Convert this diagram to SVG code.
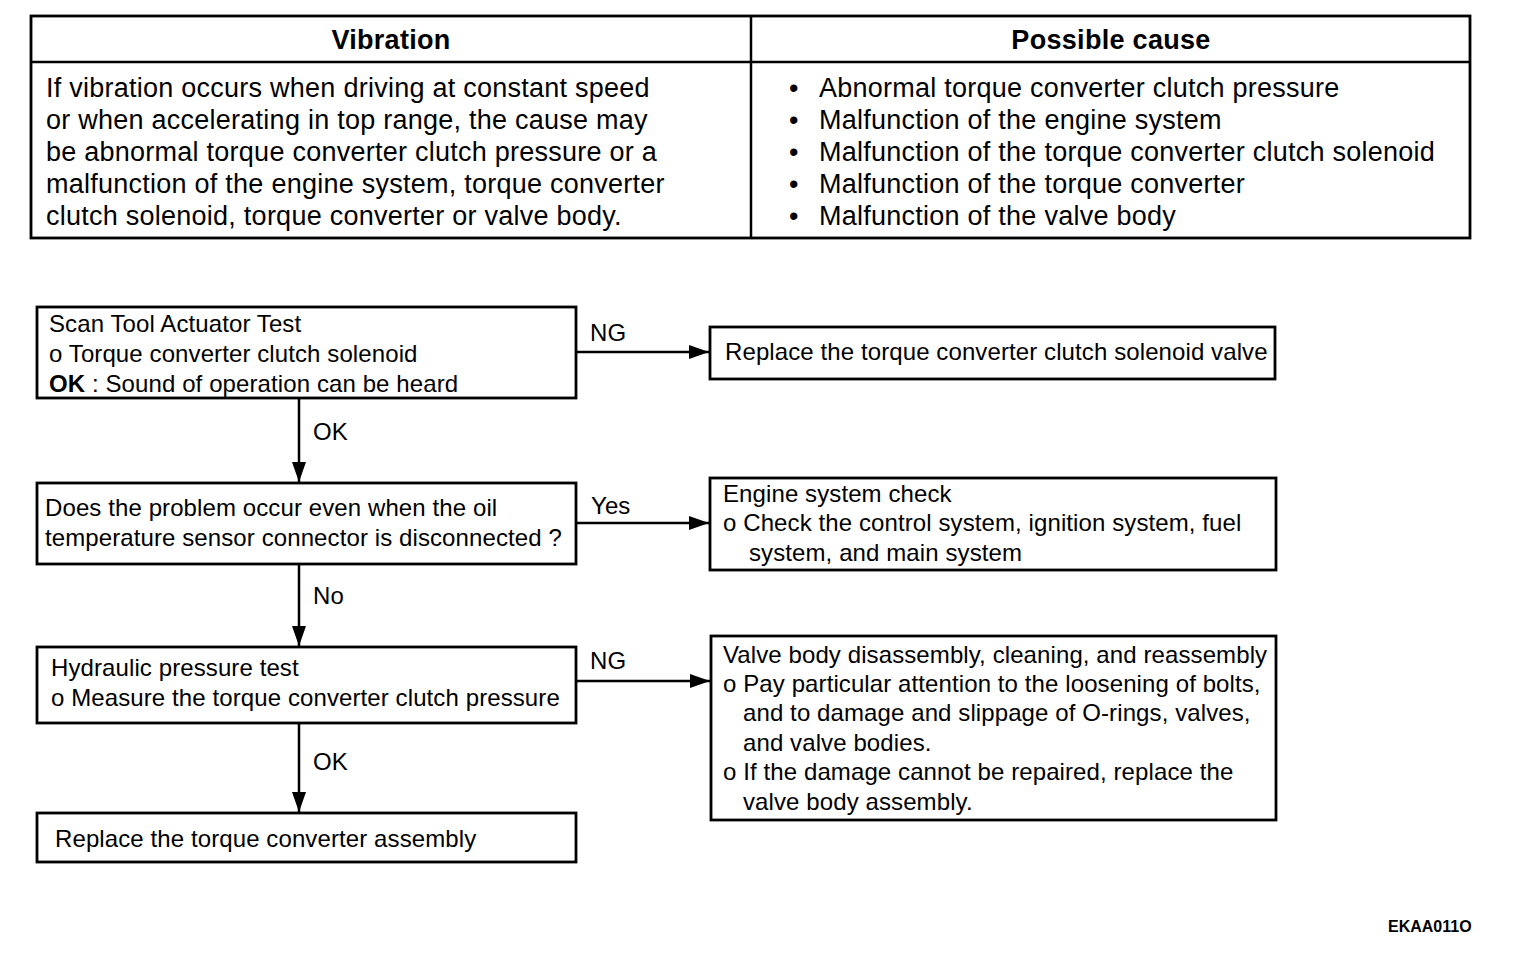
<svg xmlns="http://www.w3.org/2000/svg" width="1536" height="966" viewBox="0 0 1536 966">
<style>
text{font-family:"Liberation Sans",Arial,sans-serif;fill:#000}
.t{font-size:27px;letter-spacing:0.25px}
.h{font-size:27px;font-weight:bold;letter-spacing:0.3px}
.f{font-size:24px;letter-spacing:0.1px}
.box{fill:#fff;stroke:#000;stroke-width:2.8}
.ln{stroke:#000;stroke-width:2.5;fill:none}
</style>
<defs>
<marker id="ah" viewBox="0 0 20 14" refX="20" refY="7" markerWidth="20" markerHeight="14" markerUnits="userSpaceOnUse" orient="auto">
<path d="M0,0 L20,7 L0,14 z" fill="#000"/>
</marker>
</defs>
<rect width="1536" height="966" fill="#fff"/>
<g id="table">
<rect x="31" y="16" width="1439" height="222" class="box"/>
<line x1="31" y1="62" x2="1470" y2="62" class="ln"/>
<line x1="751" y1="16" x2="751" y2="238" class="ln"/>
<text x="391" y="49" class="h" text-anchor="middle">Vibration</text>
<text x="1111" y="49" class="h" text-anchor="middle">Possible cause</text>
<text class="t" x="46" y="97">If vibration occurs when driving at constant speed</text>
<text class="t" x="46" y="129">or when accelerating in top range, the cause may</text>
<text class="t" x="46" y="161">be abnormal torque converter clutch pressure or a</text>
<text class="t" x="46" y="193">malfunction of the engine system, torque converter</text>
<text class="t" x="46" y="225">clutch solenoid, torque converter or valve body.</text>
<text class="t" x="789" y="97">•</text><text class="t" x="819" y="97">Abnormal torque converter clutch pressure</text>
<text class="t" x="789" y="129">•</text><text class="t" x="819" y="129">Malfunction of the engine system</text>
<text class="t" x="789" y="161">•</text><text class="t" x="819" y="161">Malfunction of the torque converter clutch solenoid</text>
<text class="t" x="789" y="193">•</text><text class="t" x="819" y="193">Malfunction of the torque converter</text>
<text class="t" x="789" y="225">•</text><text class="t" x="819" y="225">Malfunction of the valve body</text>
</g>
<g id="connectors">
<line x1="576" y1="352" x2="709" y2="352" class="ln" marker-end="url(#ah)"/>
<line x1="299" y1="398" x2="299" y2="482" class="ln" marker-end="url(#ah)"/>
<line x1="576" y1="523" x2="709" y2="523" class="ln" marker-end="url(#ah)"/>
<line x1="299" y1="564" x2="299" y2="646" class="ln" marker-end="url(#ah)"/>
<line x1="576" y1="681" x2="710" y2="681" class="ln" marker-end="url(#ah)"/>
<line x1="299" y1="723" x2="299" y2="812" class="ln" marker-end="url(#ah)"/>
<text class="f" x="590" y="341">NG</text>
<text class="f" x="313" y="440">OK</text>
<text class="f" x="591" y="514">Yes</text>
<text class="f" x="313" y="604">No</text>
<text class="f" x="590" y="669">NG</text>
<text class="f" x="313" y="770">OK</text>
</g>
<g id="n1">
<rect x="37" y="307" width="539" height="91" class="box"/>
<text class="f" x="49" y="332">Scan Tool Actuator Test</text>
<text class="f" x="49" y="362">o Torque converter clutch solenoid</text>
<text class="f" x="49" y="392"><tspan font-weight="bold">OK</tspan> : Sound of operation can be heard</text>
</g>
<g id="n2">
<rect x="710" y="327" width="565" height="52" class="box"/>
<text class="f" x="725" y="360">Replace the torque converter clutch solenoid valve</text>
</g>
<g id="n3">
<rect x="37" y="483" width="539" height="81" class="box"/>
<text class="f" x="45" y="516">Does the problem occur even when the oil</text>
<text class="f" x="45" y="546">temperature sensor connector is disconnected ?</text>
</g>
<g id="n4">
<rect x="710" y="478" width="566" height="92" class="box"/>
<text class="f" x="723" y="502">Engine system check</text>
<text class="f" x="723" y="531">o Check the control system, ignition system, fuel</text>
<text class="f" x="749" y="561">system, and main system</text>
</g>
<g id="n5">
<rect x="37" y="647" width="539" height="76" class="box"/>
<text class="f" x="51" y="676">Hydraulic pressure test</text>
<text class="f" x="51" y="706">o Measure the torque converter clutch pressure</text>
</g>
<g id="n6">
<rect x="711" y="636" width="565" height="184" class="box"/>
<text class="f" x="723" y="663">Valve body disassembly, cleaning, and reassembly</text>
<text class="f" x="723" y="692">o Pay particular attention to the loosening of bolts,</text>
<text class="f" x="743" y="721">and to damage and slippage of O-rings, valves,</text>
<text class="f" x="743" y="751">and valve bodies.</text>
<text class="f" x="723" y="780">o If the damage cannot be repaired, replace the</text>
<text class="f" x="743" y="810">valve body assembly.</text>
</g>
<g id="n7">
<rect x="37" y="813" width="539" height="49" class="box"/>
<text class="f" x="55" y="847">Replace the torque converter assembly</text>
</g>
<text x="1388" y="932" font-size="16" font-weight="bold" style="font-family:'Liberation Sans',Arial,sans-serif">EKAA011O</text>
</svg>
